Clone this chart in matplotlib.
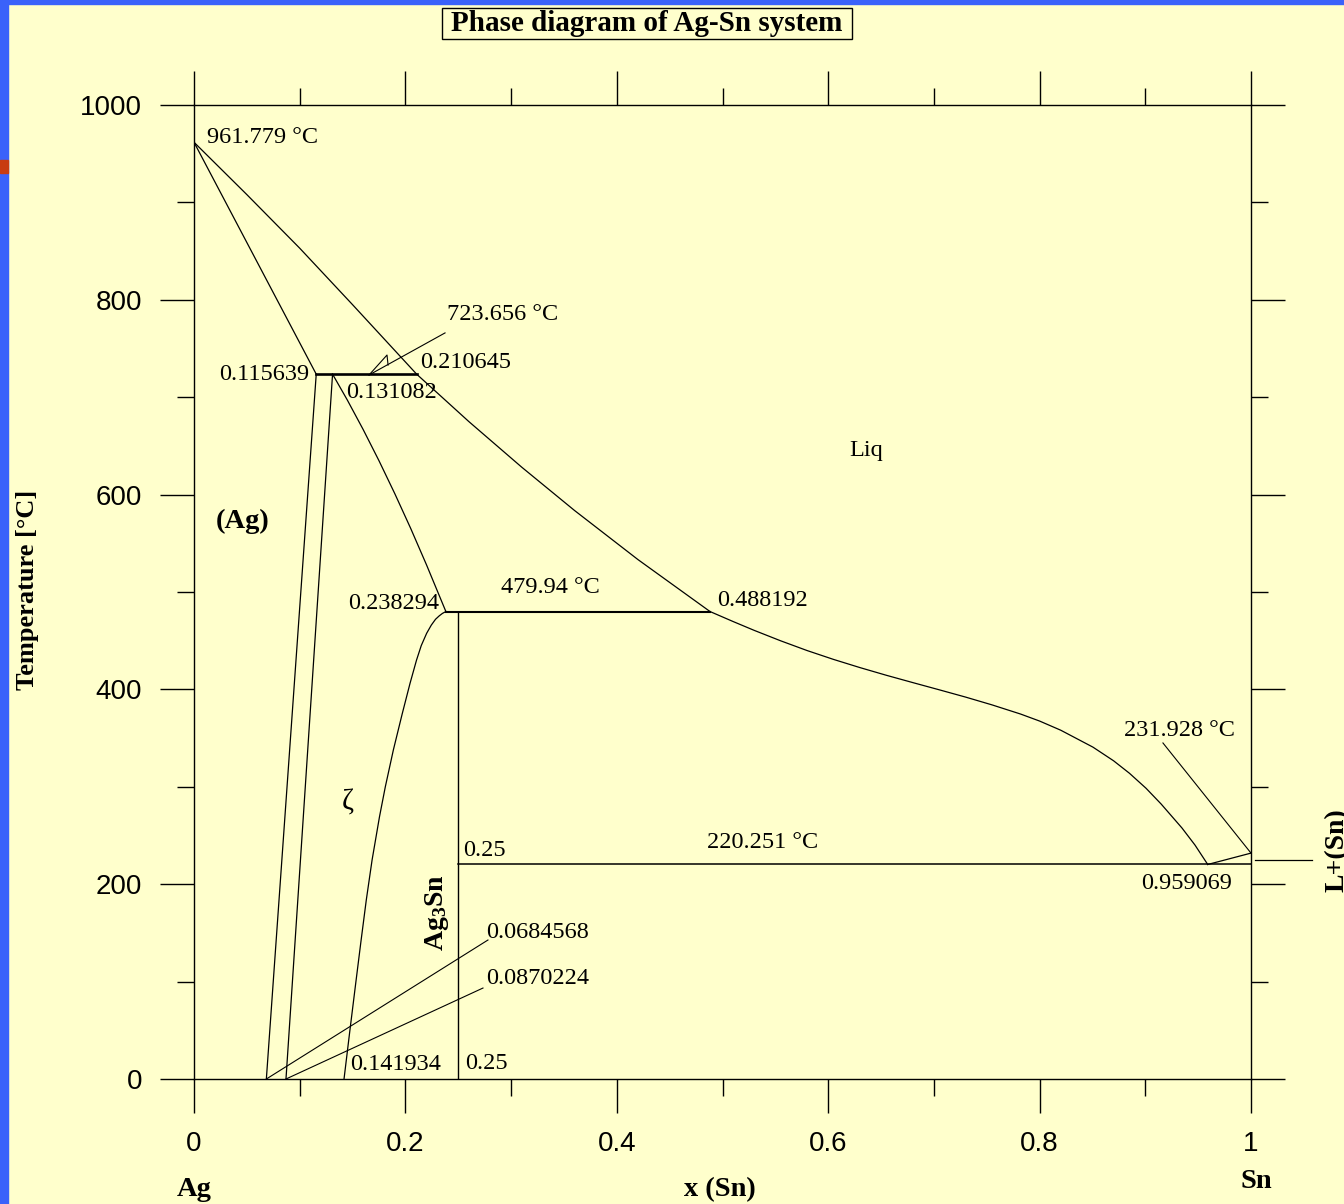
import numpy as np
import matplotlib.pyplot as plt
from matplotlib.patches import Rectangle
from matplotlib.ticker import MultipleLocator

# ---- data (x = mole fraction Sn, T in degC) ----
liq1_x = [0.0, 0.05, 0.10, 0.15, 0.210645]
liq1_T = [961.779, 908, 853, 795, 723.656]
liq2_x = [0.210645, 0.26, 0.31, 0.36, 0.42, 0.488192]
liq2_T = [723.656, 675.0, 628.2, 583.7, 533.3, 479.94]
liq3_x = [0.488192, 0.51, 0.53, 0.555, 0.58, 0.605, 0.63, 0.655, 0.681, 0.705, 0.73,
          0.755, 0.782, 0.80, 0.82, 0.8505, 0.87, 0.885, 0.9007, 0.915, 0.9347, 0.947,
          0.959069]
liq3_T = [479.94, 469.7, 460.6, 449.9, 439.9, 430.8, 422.4, 414.5, 406.7, 399.6, 392.1,
          384.1, 374.7, 367.5, 358.1, 340.7, 326.7, 313.9, 298.5, 282.3, 257.7, 240.2,
          220.251]
sn_liq_x = [0.959069, 1.0]
sn_liq_T = [220.251, 231.928]

sol_ag_x = [0.0, 0.115639]
sol_ag_T = [961.779, 723.656]
solv_ag_x = [0.115639, 0.0684568]
solv_ag_T = [723.656, 0.0]
zeta_left_x = [0.131082, 0.0870224]
zeta_left_T = [723.656, 0.0]
zeta_up_x = [0.131082, 0.145, 0.16, 0.175, 0.19, 0.205, 0.22, 0.238294]
zeta_up_T = [723.656, 697.2, 666.9, 634.8, 600.9, 565.3, 527.8, 479.94]
zeta_low_x = [0.238294, 0.2350, 0.2320, 0.2285, 0.2245, 0.2201, 0.2150, 0.2105, 0.2044,
              0.1970, 0.1886, 0.1810, 0.1755, 0.1685, 0.1630, 0.1578, 0.1530, 0.1475,
              0.141934]
zeta_low_T = [479.94, 478.0, 475.5, 472.0, 466.0, 457.6, 445.0, 430.0, 406.3,
              375.0, 337.8, 300.0, 269.3, 225.0, 183.8, 140.0, 98.3, 50.0,
              0.0]

ag3sn_x = 0.25
ag3sn_top = 479.94
invariants = {  # temperature: (x_start, x_end, linewidth)
    723.656: (0.115639, 0.210645, 1.9),
    479.94: (0.238294, 0.488192, 1.5),
    220.251: (0.25, 1.0, 1.1),
}

# leader lines for the labels
leader_723 = ([0.2375, 0.1656], [766.0, 722.8])
leader_723_head = ([0.1656, 0.1826, 0.1836], [722.8, 743.3, 733.0])
leader_232 = ([0.9167, 1.0], [345.0, 231.928])
leader_068 = ([0.2781, 0.0684568], [142.7, 0.0])
leader_087 = ([0.2734, 0.0870224], [93.4, 0.0])

# annotation texts: (text, x, T, ha)
num_labels = [
    ("961.779 °C", 0.0123, 967.1, "left"),
    ("723.656 °C", 0.2394, 784.4, "left"),
    ("0.115639", 0.1088, 722.8, "right"),
    ("0.210645", 0.2138, 736.1, "left"),
    ("0.131082", 0.1438, 705.3, "left"),
    ("Liq", 0.6358, 644.8, "center"),
    ("0.238294", 0.2318, 487.7, "right"),
    ("479.94 °C", 0.2904, 505.1, "left"),
    ("0.488192", 0.4948, 490.8, "left"),
    ("231.928 °C", 0.8799, 358.3, "left"),
    ("0.25", 0.2545, 235.1, "left"),
    ("220.251 °C", 0.4853, 243.3, "left"),
    ("0.959069", 0.8959, 201.2, "left"),
    ("0.0684568", 0.2762, 150.9, "left"),
    ("0.0870224", 0.2762, 102.7, "left"),
    ("0.141934", 0.1476, 15.4, "left"),
    ("0.25", 0.2564, 16.4, "left"),
]

x_ticks = [0, 0.2, 0.4, 0.6, 0.8, 1.0]
x_ticklabels = ["0", "0.2", "0.4", "0.6", "0.8", "1"]
y_ticks = [0, 200, 400, 600, 800, 1000]

# ---- styling ----
plt.rcParams['mathtext.fontset'] = 'custom'
plt.rcParams['mathtext.bf'] = 'Liberation Serif:bold'
plt.rcParams['mathtext.rm'] = 'Liberation Serif:bold'
serif = ['Liberation Serif', 'DejaVu Serif']
bg = '#FFFFCC'
W, H = 1344, 1204

fig = plt.figure(figsize=(W / 100, H / 100), dpi=100)
fig.patch.set_facecolor(bg)

# blue slide border and small marker
fig.patches.append(Rectangle((0, 0), 8 / W, 1, transform=fig.transFigure,
                             color='#3A62FA', zorder=0))
fig.patches.append(Rectangle((0, 1 - 4 / H), 1, 4 / H, transform=fig.transFigure,
                             color='#3A62FA', zorder=0))
fig.patches.append(Rectangle((0, 1 - 173 / H), 8 / W, 13 / H, transform=fig.transFigure,
                             color='#C83C10', zorder=1))

ax = fig.add_axes([194 / W, 1 - 1079 / H, 1057 / W, 974 / H])
ax.set_facecolor('none')
ax.set_xlim(0, 1)
ax.set_ylim(0, 1000)

lw = 0.9
k = 'black'
for xs, Ts in [(liq1_x, liq1_T), (liq2_x, liq2_T), (liq3_x, liq3_T), (sn_liq_x, sn_liq_T),
               (sol_ag_x, sol_ag_T), (solv_ag_x, solv_ag_T), (zeta_left_x, zeta_left_T),
               (zeta_up_x, zeta_up_T), (zeta_low_x, zeta_low_T)]:
    ax.plot(xs, Ts, color=k, lw=lw)

ax.plot([ag3sn_x, ag3sn_x], [0, ag3sn_top], color=k, lw=1.0)
for T, (x0, x1, w) in invariants.items():
    ax.plot([x0, x1], [T, T], color=k, lw=w)

for xs, Ts in [leader_723, leader_723_head, leader_232, leader_068, leader_087]:
    ax.plot(xs, Ts, color=k, lw=0.8)

for txt, x, T, ha in num_labels:
    ax.text(x, T, txt, ha=ha, va='center', fontsize=17.5, family=serif)

ax.text(0.1457, 283.4, "ζ", ha='center', va='center', fontsize=21, family=serif)
ax.text(0.0208, 572.9, "(Ag)", ha='left', va='center', fontsize=20.5, family=serif,
        fontweight='bold')
ax.text(0.2299, 170.4, r"$\mathbf{Ag_3Sn}$", ha='center', va='center', fontsize=20,
        rotation=90)

# L+(Sn) marker on the right edge
ax.plot([1.0038, 1.0577], [224.8, 224.8], color=k, lw=0.9, clip_on=False)
fig.text(1337 / W, 1 - 850 / H, "L+(Sn)", rotation=90, ha='center', va='center',
         fontsize=20, family=serif, fontweight='bold')

# frame and ticks
for sp in ax.spines.values():
    sp.set_linewidth(1.0)
ax.set_xticks(x_ticks)
ax.set_xticklabels(x_ticklabels)
ax.set_yticks(y_ticks)
ax.xaxis.set_minor_locator(MultipleLocator(0.1))
ax.yaxis.set_minor_locator(MultipleLocator(100))
ax.tick_params(which='major', direction='out', length=24.5, width=1.0,
               top=True, right=True, labelsize=20, pad=13)
ax.tick_params(which='minor', direction='out', length=12.3, width=1.0,
               top=True, right=True)
for lab in ax.get_xticklabels() + ax.get_yticklabels():
    lab.set_family('Liberation Sans')

# title with its frame
fig.patches.append(Rectangle((442 / W, 1 - 39 / H), 410 / W, 31 / H, transform=fig.transFigure,
                             facecolor='none', edgecolor='black', lw=1.0, zorder=3))
fig.text(647 / W, 1 - 23.5 / H, "Phase diagram of Ag-Sn system", ha='center', va='center',
         fontsize=21, family=serif, fontweight='bold')
fig.text(28 / W, 1 - 590 / H, "Temperature [°C]", rotation=90, ha='center', va='center',
         fontsize=19, family=serif, fontweight='bold')
fig.text(720 / W, 1 - 1190 / H, "x (Sn)", ha='center', va='center',
         fontsize=20.5, family=serif, fontweight='bold')
fig.text(194 / W, 1 - 1190 / H, "Ag", ha='center', va='center',
         fontsize=20.5, family=serif, fontweight='bold')
fig.text(1256 / W, 1 - 1182 / H, "Sn", ha='center', va='center',
         fontsize=20.5, family=serif, fontweight='bold')

fig.savefig('out.png', dpi=100, facecolor=bg)
